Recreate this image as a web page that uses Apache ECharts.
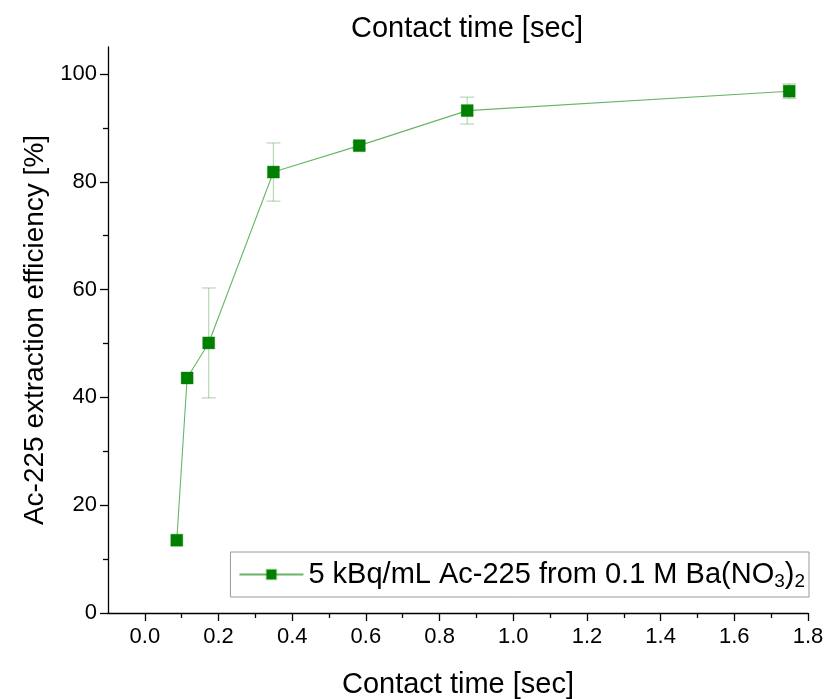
<!DOCTYPE html>
<html>
<head>
<meta charset="utf-8">
<script src="https://cdn.jsdelivr.net/npm/echarts@6/dist/echarts.min.js"></script>
<style>
  html, body { margin: 0; padding: 0; background: #fff; }
  #main { width: 828px; height: 699px; }
</style>
</head>
<body>
<div id="main"></div>
<script>
// contact time [sec], efficiency [%], error (half width)
var times = [0.0867, 0.1148, 0.1733, 0.349, 0.582, 0.875, 1.749];
var eff = [13.5, 43.6, 50.1, 81.8, 86.7, 93.2, 96.8];
var err = [0, 0, 10.2, 5.4, 0.6, 2.5, 1.35];

var xMajor = [0.0, 0.2, 0.4, 0.6, 0.8, 1.0, 1.2, 1.4, 1.6, 1.8];
var xMinor = [0.1, 0.3, 0.5, 0.7, 0.9, 1.1, 1.3, 1.5, 1.7];
var yMajor = [0, 20, 40, 60, 80, 100];
var yMinor = [10, 30, 50, 70, 90];

var seriesName = '5 kBq/mL Ac-225 from 0.1 M Ba(NO3)2';
var FONT = '"Liberation Sans", Arial, sans-serif';

var myChart = echarts.init(document.getElementById('main'));

var pts = times.map(function (t, i) { return [t, eff[i]]; });
var bars = times.map(function (t, i) { return [t, eff[i], err[i]]; });

var option = {
    animation: false,
    backgroundColor: '#fff',
    title: {
        text: 'Contact time [sec]',
        left: 346,
        top: 9,
        textStyle: { fontFamily: FONT, fontSize: 29, fontWeight: 'normal', color: '#000' }
    },
    grid: {
        left: 108, right: 20, top: 47, bottom: 86,
        containLabel: false,
        outerBoundsMode: 'none'
    },
    legend: {
        data: [seriesName],
        right: 19,
        top: 552,
        padding: [6, 4, 6, 8],
        itemWidth: 64,
        itemHeight: 12,
        itemGap: 9,
        selectedMode: false,
        borderColor: '#9a9a9a',
        borderWidth: 1,
        backgroundColor: '#fff',
        formatter: function () {
            return '5 kBq/mL Ac-225 from 0.1 M Ba(NO{sub|3}){sub|2}';
        },
        textStyle: {
            fontFamily: FONT, fontSize: 29, color: '#000', lineHeight: 33,
            rich: {
                sub: { fontFamily: FONT, fontSize: 19, lineHeight: 19, verticalAlign: 'bottom', color: '#000' }
            }
        }
    },
    xAxis: [{
        type: 'value',
        min: -0.1,
        max: 1.8,
        position: 'bottom',
        name: 'Contact time [sec]',
        nameLocation: 'middle',
        nameGap: 57,
        nameTextStyle: { fontFamily: FONT, fontSize: 29, color: '#000' },
        axisLine: { show: true, onZero: false, lineStyle: { color: '#000', width: 1.3 } },
        axisTick: { show: true, customValues: xMajor, length: 8, lineStyle: { color: '#000', width: 1.3 } },
        axisLabel: {
            customValues: xMajor, fontFamily: FONT, fontSize: 22, color: '#000', margin: 13,
            formatter: function (v) { return v.toFixed(1); }
        },
        splitLine: { show: false }
    }, {
        type: 'value',
        min: -0.1,
        max: 1.8,
        position: 'bottom',
        axisLine: { show: false, onZero: false },
        axisTick: { show: true, customValues: xMinor, length: 5, lineStyle: { color: '#000', width: 1.3 } },
        axisLabel: { show: false },
        splitLine: { show: false }
    }],
    yAxis: [{
        type: 'value',
        min: 0,
        max: 105,
        position: 'left',
        name: 'Ac-225 extraction efficiency [%]',
        nameLocation: 'middle',
        nameGap: 58,
        nameTextStyle: { fontFamily: FONT, fontSize: 28, color: '#000' },
        axisLine: { show: true, onZero: false, lineStyle: { color: '#000', width: 1.3 } },
        axisTick: { show: true, customValues: yMajor, length: 8, lineStyle: { color: '#000', width: 1.3 } },
        axisLabel: { customValues: yMajor, fontFamily: FONT, fontSize: 22, color: '#000', margin: 11 },
        splitLine: { show: false }
    }, {
        type: 'value',
        min: 0,
        max: 105,
        position: 'left',
        axisLine: { show: false, onZero: false },
        axisTick: { show: true, customValues: yMinor, length: 5, lineStyle: { color: '#000', width: 1.3 } },
        axisLabel: { show: false },
        splitLine: { show: false }
    }],
    series: [{
        // error bars
        type: 'custom',
        xAxisIndex: 0,
        yAxisIndex: 0,
        z: 1,
        silent: true,
        encode: { x: 0, y: 1 },
        data: bars,
        renderItem: function (params, api) {
            var x = api.value(0), y = api.value(1), e = api.value(2);
            if (!e) return null;
            var top = api.coord([x, y + e]);
            var bot = api.coord([x, y - e]);
            var hw = 7;
            var st = { stroke: 'rgba(60,150,60,0.35)', lineWidth: 1.3 };
            return {
                type: 'group',
                children: [
                    { type: 'line', shape: { x1: top[0], y1: top[1], x2: bot[0], y2: bot[1] }, style: st },
                    { type: 'line', shape: { x1: top[0] - hw, y1: top[1], x2: top[0] + hw, y2: top[1] }, style: st },
                    { type: 'line', shape: { x1: bot[0] - hw, y1: bot[1], x2: bot[0] + hw, y2: bot[1] }, style: st }
                ]
            };
        }
    }, {
        name: seriesName,
        type: 'line',
        xAxisIndex: 0,
        yAxisIndex: 0,
        z: 3,
        data: pts,
        symbol: 'rect',
        symbolSize: 12,
        lineStyle: { color: 'rgba(40,150,40,0.7)', width: 1.1 },
        itemStyle: { color: '#007f00', borderColor: 'rgba(0,128,0,0.35)', borderWidth: 1 }
    }]
};

myChart.setOption(option);
</script>
</body>
</html>
